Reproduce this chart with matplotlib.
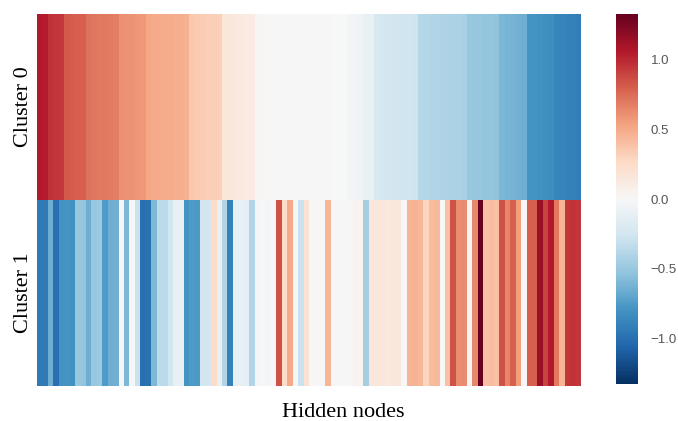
import numpy as np
import matplotlib
matplotlib.use("Agg")
import matplotlib.pyplot as plt

# Mean hidden-node activations per cluster (nodes ordered by cluster 0)
row_labels = ["Cluster 0", "Cluster 1"]

cluster0 = [
    1.06, 1.04, 0.96, 0.95, 0.94, 0.82, 0.81, 0.80, 0.79, 0.72,
    0.71, 0.70, 0.70, 0.69, 0.68, 0.61, 0.60, 0.60, 0.59, 0.58,
    0.51, 0.50, 0.50, 0.49, 0.49, 0.48, 0.48, 0.47, 0.36, 0.35,
    0.34, 0.33, 0.33, 0.32, 0.16, 0.15, 0.14, 0.13, 0.12, 0.11,
    0.02, 0.02, 0.01, 0.01, 0.01, 0.00, 0.00, 0.00, 0.00, 0.00,
    0.00, 0.00, 0.00, 0.00, -0.01, -0.01, -0.01, -0.04, -0.05, -0.06,
    -0.10, -0.11, -0.22, -0.23, -0.24, -0.25, -0.25, -0.26, -0.27, -0.28,
    -0.38, -0.39, -0.40, -0.40, -0.41, -0.41, -0.42, -0.42, -0.43, -0.50,
    -0.51, -0.51, -0.52, -0.52, -0.53, -0.61, -0.62, -0.63, -0.64, -0.65,
    -0.79, -0.80, -0.81, -0.82, -0.83, -0.88, -0.89, -0.90, -0.91, -0.92,
]

cluster1 = [
    -0.95, -0.94, -0.65, -1.00, -0.80, -0.79, -0.81, -0.50, -0.52, -0.65,
    -0.50, -0.49, -0.75, -0.65, -0.64, 0.00, -0.60, 0.00, -0.30, -1.00,
    -0.99, -0.60, -0.35, -0.36, -0.25, -0.10, -0.11, -0.80, -0.75, -0.76,
    -0.25, -0.24, 0.25, -0.10, -0.40, -0.90, -0.12, -0.12, -0.13, -0.40,
    -0.03, -0.02, -0.03, -0.02, 0.85, 0.25, 0.50, 0.00, -0.30, 0.20,
    0.00, 0.00, 0.01, 0.45, 0.00, 0.00, 0.00, 0.01, 0.05, 0.04,
    -0.45, 0.15, 0.15, 0.16, 0.14, 0.15, 0.15, 0.00, 0.45, 0.46,
    0.44, 0.30, 0.42, 0.43, 0.00, 0.40, 0.85, 0.62, 0.63, 0.02,
    0.65, 1.33, 0.40, 0.41, 0.39, 0.85, 0.65, 0.80, 0.55, 0.00,
    0.80, 0.79, 1.15, 0.90, 1.05, 0.70, 0.45, 0.95, 0.96, 0.95,
]

cbar_ticks = [-1.0, -0.5, 0.0, 0.5, 1.0]
cbar_labels = ["\u22121.0", "\u22120.5", "0.0", "0.5", "1.0"]

data = np.array([cluster0, cluster1])
vmax = np.abs(data).max()

fig = plt.figure(figsize=(6.78, 4.21), dpi=100)
ax = fig.add_axes([37 / 678, 1 - 386 / 421, (581 - 37) / 678, (386 - 14) / 421])
cax = fig.add_axes([616 / 678, 1 - 384 / 421, (638 - 616) / 678, (384 - 14) / 421])

mesh = ax.pcolormesh(data, cmap="RdBu_r", vmin=-vmax, vmax=vmax,
                     edgecolors="none", rasterized=True)
ax.set_xlim(0, data.shape[1])
ax.set_ylim(data.shape[0], 0)
ax.set_xticks([])
ax.set_yticks(np.arange(data.shape[0]) + 0.5)
ax.set_yticklabels(row_labels, rotation=90, va="center",
                   family="Liberation Serif", fontsize=16, color="black")
ax.tick_params(axis="y", length=0, pad=3)
for s in ax.spines.values():
    s.set_visible(False)
ax.set_xlabel("Hidden nodes", family="Liberation Serif", fontsize=16)
ax.xaxis.set_label_coords(0.5625, -0.045)
ax.xaxis.label.set_verticalalignment("top")

cb = fig.colorbar(mesh, cax=cax, ticks=cbar_ticks)
cb.outline.set_visible(False)
cb.ax.tick_params(length=0, pad=9, labelsize=9.5, labelcolor="#555555")
cb.ax.set_yticklabels(cbar_labels, family="Liberation Sans")

fig.savefig("out.png", dpi=100)
